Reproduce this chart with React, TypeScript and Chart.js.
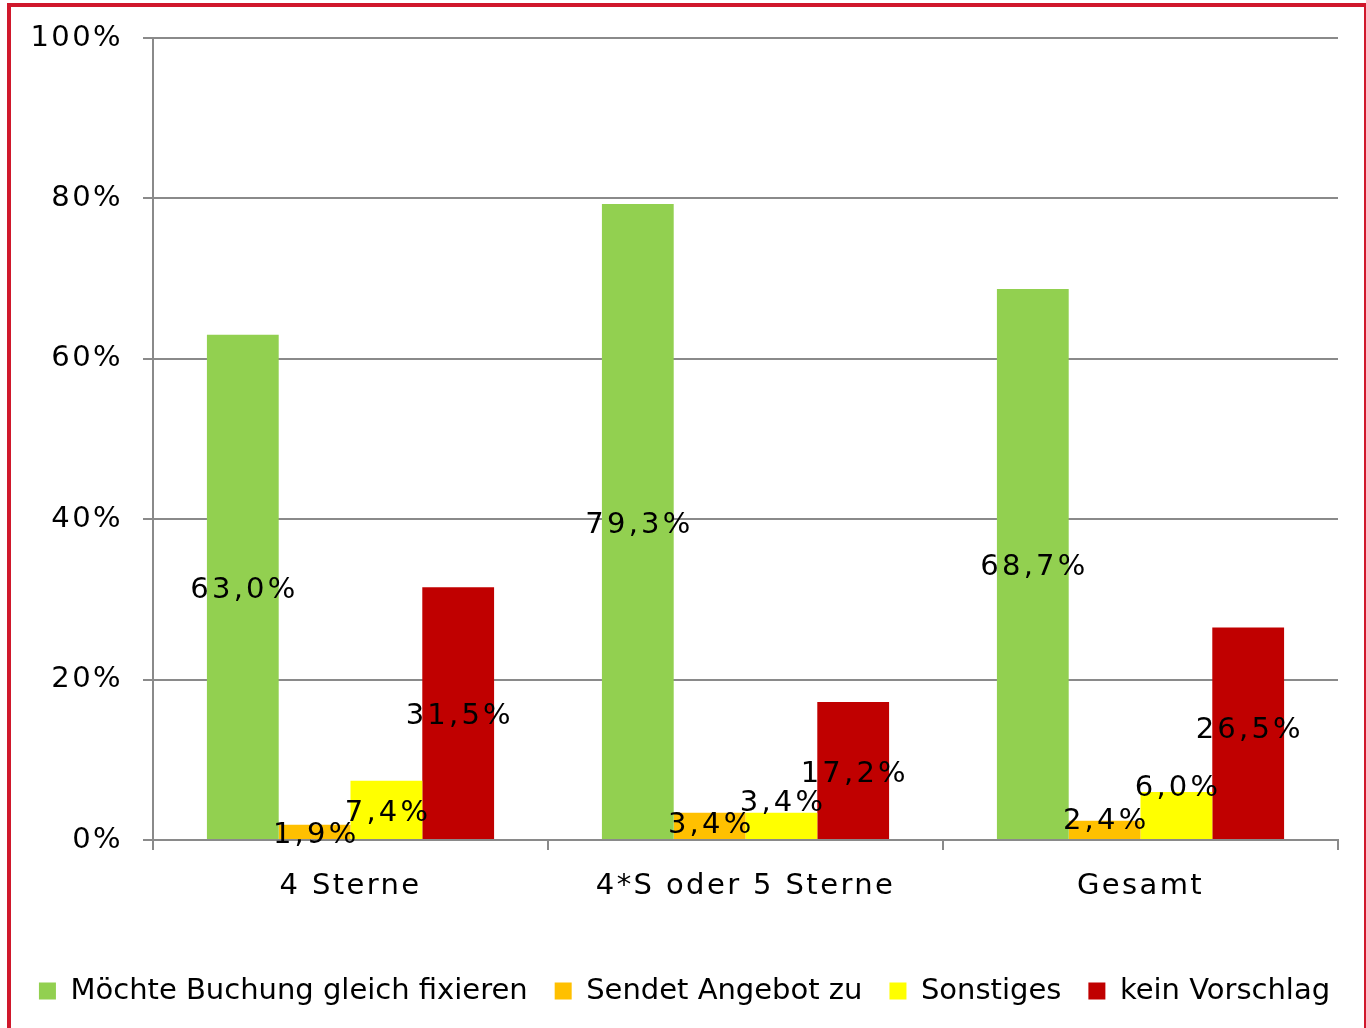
import React, { useEffect, useRef } from "react";
import { Chart, registerables } from "chart.js";

Chart.register(...registerables);

// ---- data ----
const categories = ["4 Sterne", "4*S oder 5 Sterne", "Gesamt"];
const seriesNames = [
  "Möchte Buchung gleich fixieren",
  "Sendet Angebot zu",
  "Sonstiges",
  "kein Vorschlag",
];
const fixieren = [63.0, 79.3, 68.7];
const angebot = [1.9, 3.4, 2.4];
const sonstiges = [7.4, 3.4, 6.0];
const keinVorschlag = [31.5, 17.2, 26.5];
const yTickValues = [0, 20, 40, 60, 80, 100];

// ---- styles ----
const seriesColors = ["#92D050", "#FFC000", "#FFFF00", "#C00000"];
const labelNudgeY = [
  [0, 0, 0],
  [0, -4, -12],
  [0, -26, -30],
  [0, 0, -6],
];
const LABEL_BASE_OFFSET = 3.5;
const FONT = "'DejaVu Sans', Verdana, sans-serif";
const TICK_SPACING = 2.4;
const LABEL_SPACING = 3.2;
const GRID = "#8a8a8a";

const fmt = (v: number) => v.toFixed(1).replace(".", ",") + "%";

const dataLabelPlugin = {
  id: "dataLabelPlugin",
  beforeDraw(chart: any) {
    chart.ctx.letterSpacing = "0px";
  },
  afterDatasetsDraw(chart: any) {
    const ctx = chart.ctx;
    ctx.letterSpacing = LABEL_SPACING + "px";
    ctx.save();
    ctx.font = `29px ${FONT}`;
    ctx.fillStyle = "#000";
    ctx.textAlign = "center";
    ctx.textBaseline = "middle";
    chart.data.datasets.forEach((ds: any, di: number) => {
      const meta = chart.getDatasetMeta(di);
      meta.data.forEach((el: any, i: number) => {
        const y =
          (el.y + el.base) / 2 + LABEL_BASE_OFFSET + (labelNudgeY[di]?.[i] || 0);
        ctx.fillText(fmt(ds.data[i]), el.x + LABEL_SPACING / 2, y);
      });
    });
    ctx.restore();
    ctx.letterSpacing = TICK_SPACING + "px";
  },
  afterDraw(chart: any) {
    chart.ctx.letterSpacing = "0px";
  },
};

export default function App() {
  const ref = useRef<HTMLCanvasElement | null>(null);

  useEffect(() => {
    if (!ref.current) return;
    const seriesData = [fixieren, angebot, sonstiges, keinVorschlag];
    const chart = new Chart(ref.current, {
      type: "bar",
      data: {
        labels: categories,
        datasets: seriesData.map((d, i) => ({
          label: seriesNames[i],
          data: d,
          backgroundColor: seriesColors[i],
          borderWidth: 0,
          barPercentage: 1,
          categoryPercentage: 0.727,
        })),
      },
      options: {
        animation: false,
        responsive: false,
        maintainAspectRatio: false,
        layout: { padding: { left: 3, right: 0, top: 38, bottom: 12.5 } },
        plugins: {
          legend: {
            position: "bottom",
            labels: {
              font: { family: FONT, size: 29 },
              color: "#000",
              boxWidth: 17,
              boxHeight: 17,
              padding: 27,
            },
          },
          tooltip: { enabled: false },
        },
        scales: {
          x: {
            offset: true,
            grid: {
              drawOnChartArea: false,
              drawTicks: true,
              tickLength: 10,
              color: GRID,
              lineWidth: 2,
              offset: true,
            },
            border: { display: true, color: GRID, width: 2 },
            ticks: {
              font: { family: FONT, size: 29 },
              color: "#000",
              padding: 19,
              z: 1,
            },
            afterFit: (scale: any) => {
              scale.height = 109.5;
            },
          },
          y: {
            min: yTickValues[0],
            max: yTickValues[yTickValues.length - 1],
            grid: { color: GRID, lineWidth: 2, tickLength: 10 },
            border: { display: true, color: GRID, width: 2 },
            ticks: {
              stepSize: yTickValues[1] - yTickValues[0],
              font: { family: FONT, size: 29 },
              color: "#000",
              padding: 20,
              z: 1,
              callback: (v: any) => v + "%",
            },
            afterFit: (scale: any) => {
              scale.width = 150;
            },
          },
          yRight: {
            position: "right",
            display: true,
            grid: { display: false, drawTicks: false },
            border: { display: false },
            ticks: { display: false },
            afterFit: (scale: any) => {
              scale.width = 28;
            },
          },
        },
      },
      plugins: [dataLabelPlugin],
    } as any);
    return () => chart.destroy();
  }, []);

  return (
    <div>
      <canvas
        ref={ref}
        width={1366}
        height={1028}
        style={{ position: "fixed", left: 0, top: 0, width: 1366, height: 1028 }}
      />
      <div
        style={{
          position: "fixed",
          left: 7,
          top: 3,
          width: 1359,
          height: 1100,
          boxSizing: "border-box",
          borderLeft: "4px solid #d0182c",
          borderTop: "4px solid #d0182c",
          borderRight: "2px solid #d0182c",
          borderBottom: "4px solid #d0182c",
          pointerEvents: "none",
        }}
      />
    </div>
  );
}
